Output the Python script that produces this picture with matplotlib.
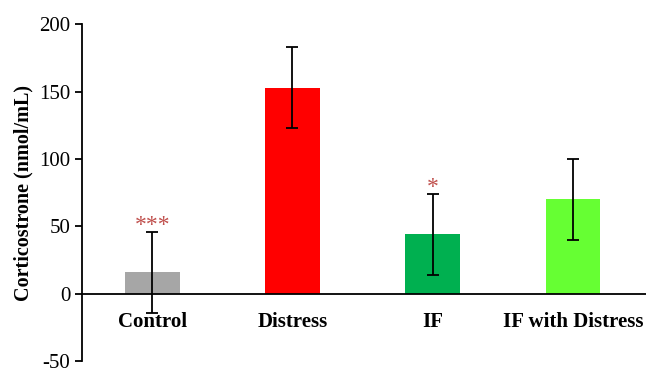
import matplotlib.pyplot as plt

groups = ['Control', 'Distress', 'IF', 'IF with Distress']
means = [16, 153, 44, 70]
errors = [30, 30, 30, 30]
colors = ['#a6a6a6', '#ff0000', '#00b050', '#66ff33']
marks = ['***', '', '*', '']

plt.rcParams['font.family'] = ['Liberation Serif', 'DejaVu Serif']
plt.rcParams['axes.unicode_minus'] = False

fig = plt.figure(figsize=(6.46, 3.73), dpi=100)
ax = fig.add_axes([0.127, 0.032, 0.873, 0.903])

x = range(len(groups))
ax.bar(x, means, width=0.39, color=colors, yerr=errors, capsize=4,
       error_kw=dict(elinewidth=1.3, capthick=1.3, ecolor='black'))

for i, m in enumerate(marks):
    if m:
        ax.text(i, means[i] + errors[i] - 3, m, ha='center', va='bottom',
                color='#c0504d', fontsize=17)

ax.set_xlim(-0.5, 3.52)
ax.set_ylim(-50, 200)
ax.set_yticks([-50, 0, 50, 100, 150, 200])
ax.spines['top'].set_visible(False)
ax.spines['right'].set_visible(False)
ax.spines['bottom'].set_position(('data', 0))
ax.spines['left'].set_linewidth(1.3)
ax.spines['bottom'].set_linewidth(1.3)
ax.set_xticks(list(x))
ax.set_xticklabels(groups, fontweight='bold', fontsize=15)
ax.tick_params(axis='x', length=0, pad=13)
ax.tick_params(axis='y', labelsize=15, length=5, width=1.3)
ax.set_ylabel('Corticostrone (nmol/mL)', fontweight='bold', fontsize=14.5, labelpad=4)

fig.savefig('out.png')
